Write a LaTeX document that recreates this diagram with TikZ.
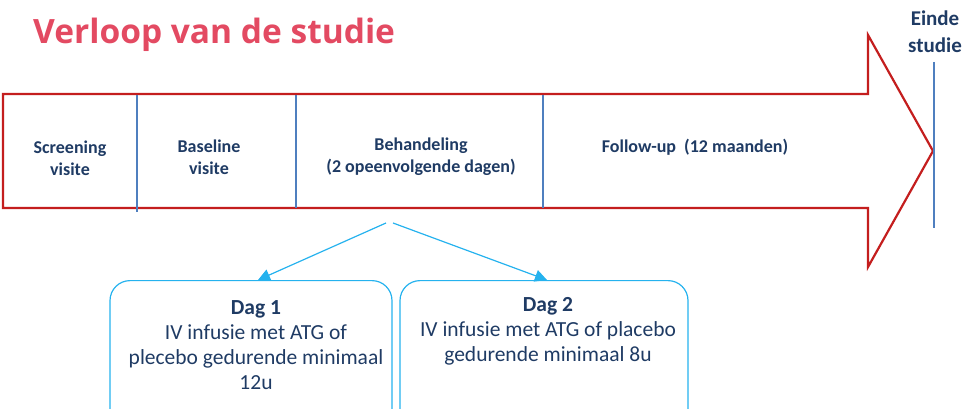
\documentclass[tikz,border=0pt]{standalone}
\usepackage{fontspec}
\setmainfont{Carlito}
\newfontfamily\titlefont{Open Sans}
\usetikzlibrary{arrows.meta}
\definecolor{titlepink}{HTML}{E34A62}
\definecolor{arrowred}{HTML}{C41E1E}
\definecolor{divblue}{HTML}{4F7FBF}
\definecolor{navy}{HTML}{1F3B64}
\definecolor{boxcyan}{HTML}{25B2EE}
\tikzset{
  phase/.style={font=\fontsize{18}{22}\selectfont\bfseries, text=navy, align=center},
  daybox/.style={draw=boxcyan, line width=1.2pt, rounded corners=20pt, minimum height=180pt, anchor=north},
  daytext/.style={font=\fontsize{21.5}{25}\selectfont, text=navy, align=center, anchor=north},
  divider/.style={draw=divblue, line width=1.8pt},
  splitarrow/.style={draw=boxcyan, line width=1.2pt, -{Triangle[length=12pt,width=12pt]}},
}
\begin{document}
\begin{tikzpicture}[x=1pt,y=-1pt]
\useasboundingbox (0,0) rectangle (971,409);
\clip (0,0) rectangle (971,409);
% title
\node[anchor=base west, inner sep=0pt, text=titlepink, font=\titlefont\fontsize{33.5}{38}\selectfont\bfseries] (title) at (33,44) {Verloop van de studie};
% big arrow
\draw[arrowred, line width=2.2pt, line join=miter, fill=white] (3,94) -- (868,94) -- (868,35) -- (933,151) -- (868,267) -- (868,208) -- (3,208) -- cycle;
% dividers
\draw[divider] (137,95) -- (137,212);
\draw[divider] (296,95) -- (296,208);
\draw[divider] (543,95) -- (543,208);
% end line
\draw[divider, line width=1.5pt] (934,62) -- (934,228);
\node[phase, font=\fontsize{21}{27}\selectfont\bfseries] (einde) at (935,32) {Einde\\studie};
% phase labels
\node[phase] (screen) at (70,158) {Screening\\visite};
\node[phase] (base) at (209,157) {Baseline\\visite};
\node[phase] (behand) at (421,157) {Behandeling\\(2 opeenvolgende dagen)};
\node[phase] (follow) at (695,147) {Follow-up\ \ (12 maanden)};
% boxes
\node[daybox, minimum width=282pt] (dag1) at (251,280) {};
\node[daybox, minimum width=288pt] (dag2) at (544,280) {};
\node[daytext] (t1) at (256,297) {\textbf{Dag 1}\\IV infusie met ATG of\\plecebo gedurende minimaal\\12u};
\node[daytext] (t2) at (548,294) {\textbf{Dag 2}\\IV infusie met ATG of placebo\\gedurende minimaal 8u};
% split arrows
\coordinate (splitL) at (386,223);
\coordinate (splitR) at (393,223);
\draw[splitarrow] (splitL) -- ([xshift=7pt]dag1.north);
\draw[splitarrow] (splitR) -- ([xshift=3pt]dag2.north);
\end{tikzpicture}
\end{document}
